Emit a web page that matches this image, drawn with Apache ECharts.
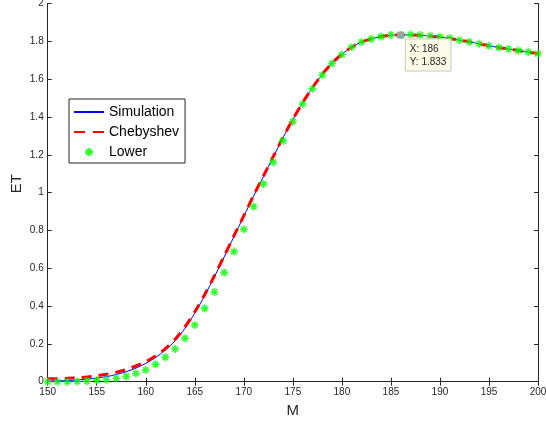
<!DOCTYPE html>
<html>
<head>
<meta charset="utf-8">
<script src="https://cdn.jsdelivr.net/npm/echarts@6/dist/echarts.min.js"></script>
<style>
  html, body { margin: 0; padding: 0; background: #fff; }
  #chart { width: 546px; height: 425px; }
</style>
</head>
<body>
<div id="chart"></div>
<script>
const mValues = [150, 151, 152, 153, 154, 155, 156, 157, 158, 159,
    160, 161, 162, 163, 164, 165, 166, 167, 168, 169,
    170, 171, 172, 173, 174, 175, 176, 177, 178, 179,
    180, 181, 182, 183, 184, 185, 186, 187, 188, 189,
    190, 191, 192, 193, 194, 195, 196, 197, 198, 199, 200];

const simulation = [0.003, 0.004, 0.006, 0.009, 0.013, 0.019, 0.027, 0.038, 0.053, 0.072,
    0.097, 0.128, 0.167, 0.217, 0.282, 0.362, 0.455, 0.555, 0.660, 0.768,
    0.875, 0.982, 1.085, 1.188, 1.290, 1.387, 1.476, 1.555, 1.625, 1.685,
    1.731, 1.769, 1.796, 1.813, 1.825, 1.832, 1.834, 1.834, 1.832, 1.828,
    1.822, 1.815, 1.806, 1.797, 1.787, 1.777, 1.767, 1.759, 1.751, 1.743, 1.735];

const chebyshev = [0.015, 0.016, 0.018, 0.021, 0.025, 0.031, 0.039, 0.050, 0.064, 0.083,
    0.106, 0.136, 0.175, 0.225, 0.290, 0.370, 0.460, 0.560, 0.665, 0.772,
    0.878, 0.985, 1.088, 1.190, 1.292, 1.388, 1.476, 1.555, 1.625, 1.685,
    1.731, 1.769, 1.796, 1.813, 1.825, 1.832, 1.834, 1.834, 1.832, 1.828,
    1.822, 1.815, 1.806, 1.797, 1.787, 1.777, 1.767, 1.759, 1.751, 1.743, 1.735];

const lower = [0.000, 0.000, 0.000, 0.001, 0.003, 0.008, 0.010, 0.018, 0.028, 0.044,
    0.062, 0.092, 0.129, 0.173, 0.230, 0.300, 0.388, 0.475, 0.577, 0.688,
    0.806, 0.926, 1.046, 1.161, 1.274, 1.376, 1.469, 1.549, 1.621, 1.683,
    1.730, 1.769, 1.796, 1.812, 1.825, 1.834, 1.833, 1.836, 1.833, 1.829,
    1.824, 1.817, 1.806, 1.797, 1.787, 1.776, 1.767, 1.760, 1.751, 1.744, 1.735];

const dataTip = { x: 186, y: 1.833 };

const axisColor = '#262626';
const starPath = 'path://M0,-1L0,1M-1,0L1,0M-0.7,-0.7L0.7,0.7M-0.7,0.7L0.7,-0.7';

const pairs = (ys) => mValues.map((m, i) => [m, ys[i]]);

const chart = echarts.init(document.getElementById('chart'));

const option = {
    animation: false,
    textStyle: { fontFamily: 'Liberation Sans, Arial, sans-serif' },
    grid: { left: 47.7, right: 8, top: 3.5, bottom: 43.3, outerBoundsMode: 'none' },
    legend: {
        orient: 'vertical',
        left: 69,
        top: 99,
        itemWidth: 30,
        itemHeight: 8,
        itemGap: 6,
        padding: [6, 6, 4, 4],
        borderColor: axisColor,
        borderWidth: 1,
        backgroundColor: '#fff',
        textStyle: { fontSize: 14, lineHeight: 14, color: '#000' },
        data: [
            { name: 'Simulation', itemStyle: { opacity: 0 } },
            { name: 'Chebyshev', itemStyle: { opacity: 0 }, lineStyle: { type: [11, 8] } },
            { name: 'Lower' }
        ]
    },
    xAxis: [
        {
            type: 'value',
            min: 150,
            max: 200,
            interval: 5,
            name: 'M',
            nameLocation: 'middle',
            nameGap: 22,
            nameMoveOverlap: false,
            nameTextStyle: { fontSize: 15, color: axisColor },
            axisLine: { lineStyle: { color: axisColor } },
            axisTick: { inside: true, length: 4, lineStyle: { color: axisColor } },
            axisLabel: { fontSize: 10, color: axisColor, margin: 6 },
            splitLine: { show: false }
        },
        {
            type: 'value',
            position: 'top',
            min: 150,
            max: 200,
            interval: 5,
            axisLine: { lineStyle: { color: axisColor } },
            axisTick: { inside: true, length: 4, lineStyle: { color: axisColor } },
            axisLabel: { show: false },
            splitLine: { show: false }
        }
    ],
    yAxis: [
        {
            type: 'value',
            min: 0,
            max: 2,
            interval: 0.2,
            name: 'ET',
            nameLocation: 'middle',
            nameGap: 23,
            nameMoveOverlap: false,
            nameTextStyle: { fontSize: 15, color: axisColor, padding: [0, 0, 0, 18] },
            axisLine: { show: true, lineStyle: { color: axisColor } },
            axisTick: { show: true, inside: true, length: 4, lineStyle: { color: axisColor } },
            axisLabel: { fontSize: 10, color: axisColor, margin: 4 },
            splitLine: { show: false }
        },
        {
            type: 'value',
            position: 'right',
            min: 0,
            max: 2,
            interval: 0.2,
            axisLine: { show: true, lineStyle: { color: axisColor } },
            axisTick: { show: true, inside: true, length: 4, lineStyle: { color: axisColor } },
            axisLabel: { show: false },
            splitLine: { show: false }
        }
    ],
    series: [
        {
            name: 'Simulation',
            type: 'line',
            symbol: 'none',
            smooth: 0.3,
            color: '#0000ff',
            lineStyle: { color: '#0000ff', width: 1 },
            data: pairs(simulation),
            z: 2
        },
        {
            name: 'Chebyshev',
            type: 'line',
            symbol: 'none',
            smooth: 0.3,
            color: '#ff0000',
            lineStyle: { color: '#ff0000', width: 3, type: [10, 7] },
            data: pairs(chebyshev),
            z: 3
        },
        {
            name: 'Lower',
            type: 'scatter',
            symbol: starPath,
            symbolSize: 8,
            itemStyle: { color: '#00ff00', borderColor: '#00ff00', borderWidth: 1.5 },
            data: pairs(lower),
            z: 4,
            markPoint: {
                symbol: 'rect',
                symbolSize: 7,
                itemStyle: { color: '#a0a0a0', borderColor: '#a0a0a0', borderWidth: 0 },
                label: {
                    show: true,
                    position: [8.5, 8],
                    formatter: 'X: ' + dataTip.x + '\nY: ' + dataTip.y.toFixed(3),
                    fontSize: 10,
                    lineHeight: 13,
                    color: '#262626',
                    backgroundColor: '#fbfbe6',
                    borderColor: '#c8c8c8',
                    borderWidth: 1,
                    padding: [3, 4, 2, 4]
                },
                data: [{ coord: [dataTip.x, dataTip.y] }]
            }
        }
    ]
};

chart.setOption(option);
</script>
</body>
</html>
